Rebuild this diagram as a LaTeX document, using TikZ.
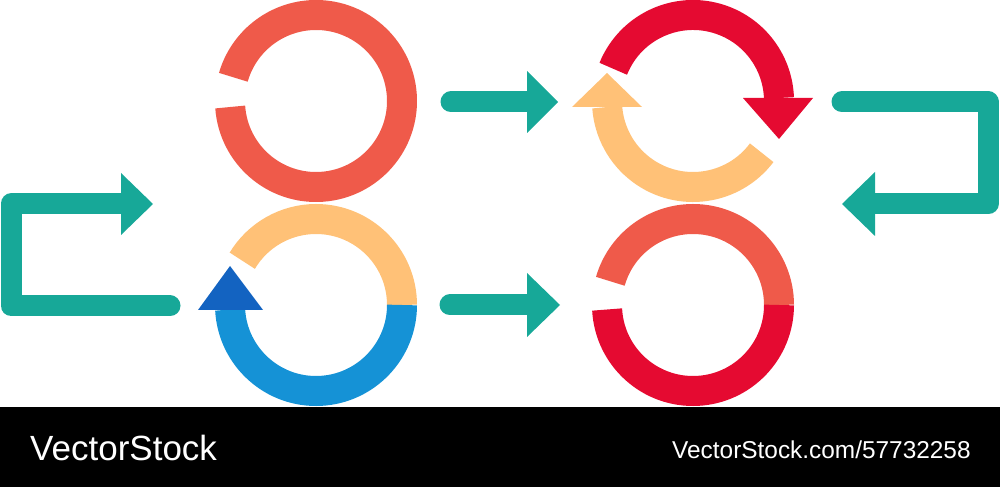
\documentclass[tikz,border=0pt]{standalone}
\usepackage{fontspec}
\setmainfont{Liberation Sans}
\usepackage{tikz}
\usetikzlibrary{positioning,calc}
\definecolor{ringred}{HTML}{EF5A4A}
\definecolor{ringcrimson}{HTML}{E50A31}
\definecolor{ringyellow}{HTML}{FFC177}
\definecolor{ringblue}{HTML}{1592D6}
\definecolor{tipblue}{HTML}{1363C1}
\definecolor{loopteal}{HTML}{17A898}
\tikzset{
 ring/.style={line width=30pt,line cap=butt},
 bar/.style={draw=loopteal,line width=21pt,line cap=round,line join=round},
 tip/.style={fill=#1,draw=none},
 banner text/.style={text=white,inner sep=0pt,anchor=base west}
 }

\begin{document}
\begin{tikzpicture}[x=1pt,y=1pt]
      \useasboundingbox (0,0) rectangle (1000,487);
      \coordinate (c1) at (316,386);
      \coordinate (c2) at (316,182);
      \coordinate (c3) at (693,386);
      \coordinate (c4) at (693,182);
      \draw[ring,ringred] ([shift={(184:86)}]c1) arc (184:524:86);
      \draw[ring,ringyellow] ([shift={(0:86)}]c2) arc (0:149:86);
      \draw[ring,ringblue] ([shift={(183:86)}]c2) arc (183:360:86);
      \fill[tip=tipblue] ([shift={(-118,-5)}]c2) -- ([shift={(-53,-5)}]c2) -- ([shift={(-86,39)}]c2) -- cycle;
      \draw[ring,ringcrimson] ([shift={(158:86)}]c3) arc (158:2:86);
      \fill[tip=ringcrimson] ([shift={(50,3)}]c3) -- ([shift={(120,3)}]c3) -- ([shift={(86,-38)}]c3) -- cycle;
      \draw[ring,ringyellow] ([shift={(-37:86)}]c3) arc (-37:-176:86);
      \fill[tip=ringyellow] ([shift={(-121,-6)}]c3) -- ([shift={(-51,-6)}]c3) -- ([shift={(-86,28)}]c3) -- cycle;
      \draw[ring,ringred] ([shift={(0:86)}]c4) arc (0:164:86);
      \draw[ring,ringcrimson] ([shift={(183:86)}]c4) arc (183:360:86);
      \coordinate (s1) at (451,385);
      \coordinate (e1) at (527,385);
      \coordinate (s2) at (450,182);
      \coordinate (e2) at (527,182);
      \draw[bar] (s1) -- (e1);
      \fill[tip=loopteal] ([yshift=31pt]e1) -- ([yshift=-31pt]e1) -- ([xshift=31pt]e1) -- cycle;
      \draw[bar] (s2) -- (e2);
      \fill[tip=loopteal] ([yshift=32pt]e2) -- ([yshift=-32pt]e2) -- ([xshift=33pt]e2) -- cycle;
      \coordinate (l1) at (170,181);
      \coordinate (l2) at (121,283);
      \draw[bar] (l1) -- ++(-159,0) |- (l2);
      \fill[tip=loopteal] ([yshift=31pt]l2) -- ([yshift=-31pt]l2) -- ([xshift=32pt]l2) -- cycle;
      \coordinate (r1) at (842,385);
      \coordinate (r2) at (875,283);
      \draw[bar] (r1) -- ++(146,0) |- (r2);
      \fill[tip=loopteal] ([yshift=32pt]r2) -- ([yshift=-32pt]r2) -- ([xshift=-33pt]r2) -- cycle;
      \fill[black] (0,0) rectangle (1000,80);
      \node[banner text,font=\fontsize{35}{40}\selectfont] (brand) at (30,27) {VectorStock};
      \node[banner text,font=\fontsize{24.4}{28}\selectfont] (link) at (672,29) {VectorStock.com/57732258};
    \end{tikzpicture}
\end{document}
